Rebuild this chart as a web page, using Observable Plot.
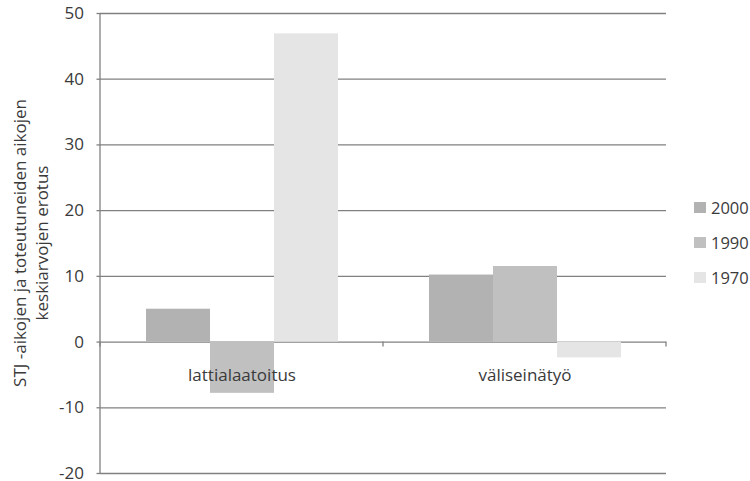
<!DOCTYPE html>
<html>
<head>
<meta charset="utf-8">
<script src="https://cdn.jsdelivr.net/npm/d3@7"></script>
<script src="https://cdn.jsdelivr.net/npm/@observablehq/plot@0.6"></script>
<style>
  html, body { margin: 0; padding: 0; background: #fff; }
  #wrap { position: relative; width: 750px; height: 481px; font-family: "Open Sans", sans-serif; }
  #legend { position: absolute; left: 694px; top: 190px; font-size: 16.5px; color: #3a3a3a; }
  #legend .item { display: flex; align-items: center; height: 35px; }
  #legend .sw { width: 12px; height: 11px; margin-right: 5px; }
</style>
</head>
<body>
<div id="wrap"></div>
<script>
// Work types and construction decades
const categories = ["lattialaatoitus", "väliseinätyö"];
const series = ["2000", "1990", "1970"];
const colors = ["#b2b2b2", "#c0c0c0", "#e5e5e5"];

// Difference of means (STJ times minus realised times), per decade
const values2000 = [5.0, 10.2];
const values1990 = [-7.8, 11.5];
const values1970 = [46.9, -2.4];

const yTicks = [-20, -10, 0, 10, 20, 30, 40, 50];
const yTitle = "STJ -aikojen ja toteutuneiden aikojen\nkeskiarvojen erotus";

const byYear = {"2000": values2000, "1990": values1990, "1970": values1970};
const rows = series.flatMap(s => categories.map((c, i) => ({category: c, series: s, value: byYear[s][i]})));

const textColor = "#3a3a3a";
const gridColor = "#818181";
const fontSize = 17;

const chart = Plot.plot({
  width: 750,
  height: 481,
  marginLeft: 100,
  marginRight: 84,
  marginTop: 13,
  marginBottom: 8,
  style: {fontFamily: "'Open Sans', sans-serif", fontSize: `${fontSize}px`, color: textColor, background: "#fff", overflow: "visible"},
  fx: {domain: categories, padding: 0, axis: null},
  x: {domain: series, paddingInner: 0, paddingOuter: 0.685, axis: null},
  y: {domain: [-20, 50]},
  color: {domain: series, range: colors},
  marks: [
    Plot.ruleY(yTicks, {stroke: gridColor, strokeWidth: 1.3}),
    Plot.barY(rows, {fx: "category", x: "series", y: "value", fill: "series"}),
    Plot.text(categories, {fx: d => d, y: d => 0, text: d => d, dy: 33, fill: textColor, fontSize}),
    Plot.axisY(yTicks, {
      tickSize: 3.5, tickPadding: 13, stroke: gridColor, strokeWidth: 1.3, fill: textColor, fontSize,
      tickFormat: d => String(d), label: null
    })
  ]
});

const wrap = document.getElementById("wrap");
wrap.appendChild(chart);

// Left axis line and category separators along the zero line
const svg = d3.select(chart);
const y = chart.scale("y");
const fx = chart.scale("fx");
const left = fx.apply(categories[0]);
const bw = fx.bandwidth;
const edges = [left, ...categories.map(c => fx.apply(c) + bw)];
svg.append("line")
  .attr("x1", left).attr("x2", left)
  .attr("y1", y.apply(50)).attr("y2", y.apply(-20))
  .attr("stroke", gridColor).attr("stroke-width", 1.3);
svg.selectAll(".cattick").data(edges).join("line")
  .attr("x1", d => d).attr("x2", d => d)
  .attr("y1", y.apply(0)).attr("y2", y.apply(0) + 5)
  .attr("stroke", gridColor).attr("stroke-width", 1.3);

// Axis title, two centred rotated lines
const cy = (y.apply(50) + y.apply(-20)) / 2;
const title = svg.append("text")
  .attr("transform", `translate(20,${cy}) rotate(-90)`)
  .attr("text-anchor", "middle")
  .attr("fill", textColor)
  .style("font-size", `${fontSize}px`);
yTitle.split("\n").forEach((line, i) => {
  title.append("tspan").attr("x", 0).attr("dy", i === 0 ? "0.35em" : "22px").text(line);
});

// Legend on the right
const color = chart.scale("color");
const legend = d3.select(wrap).append("div").attr("id", "legend");
series.forEach(s => {
  const item = legend.append("div").attr("class", "item");
  item.append("div").attr("class", "sw").style("background", color.apply(s));
  item.append("span").text(s);
});
</script>
</body>
</html>
